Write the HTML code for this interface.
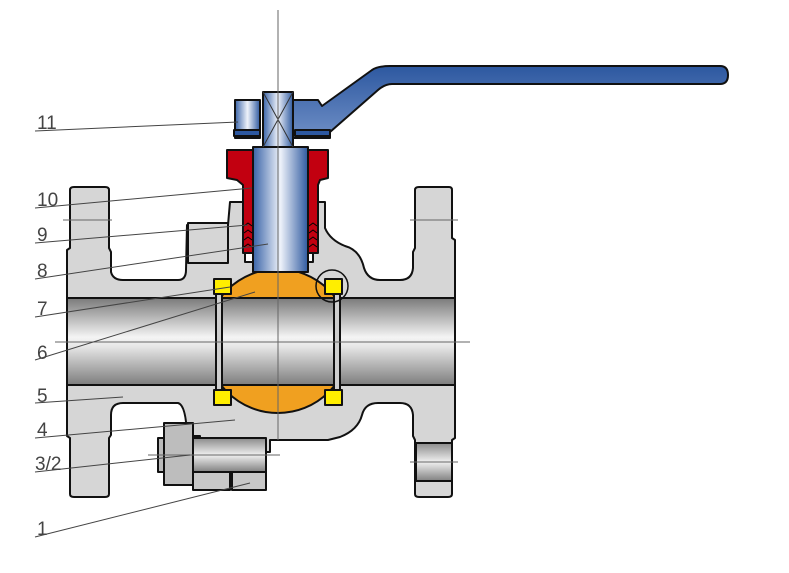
<!DOCTYPE html>
<html><head><meta charset="utf-8"><style>
html,body{margin:0;padding:0;background:#fff;}
svg{display:block;}
text{font-family:"Liberation Sans",sans-serif;font-size:19px;fill:#444;}
</style></head><body>
<svg width="789" height="573" viewBox="0 0 789 573" xmlns="http://www.w3.org/2000/svg">
<defs>
<linearGradient id="bore" x1="0" y1="0" x2="0" y2="1">
<stop offset="0" stop-color="#7a7a7a"/><stop offset="0.45" stop-color="#f4f4f4"/><stop offset="0.55" stop-color="#e8e8e8"/><stop offset="1" stop-color="#7d7d7d"/></linearGradient>
<linearGradient id="stem" x1="0" y1="0" x2="1" y2="0">
<stop offset="0" stop-color="#3a64a8"/><stop offset="0.5" stop-color="#eef2fa"/><stop offset="1" stop-color="#2f5aa0"/></linearGradient>
<linearGradient id="hand" x1="0" y1="0" x2="0" y2="1">
<stop offset="0" stop-color="#2d58a0"/><stop offset="1" stop-color="#6f8fc6"/></linearGradient>
<linearGradient id="bolt" x1="0" y1="0" x2="0" y2="1">
<stop offset="0" stop-color="#8a8a8a"/><stop offset="0.5" stop-color="#f0f0f0"/><stop offset="1" stop-color="#808080"/></linearGradient>
<clipPath id="bc"><rect x="223" y="200" width="110" height="250"/></clipPath>
</defs>
<g stroke="#111" stroke-width="2" stroke-linejoin="round">
<path fill="#d6d6d6" d="M70,190 Q70,187 74,187 L105,187 Q109,187 109,190 L109,248 L111,252 L111,272 Q113,280 123,280 L178,280 Q186,280 186,270 L187,225 L228,225 L230,202 L245,202 L245,262 L313,262 L313,202 L325,202 L325,228 Q330,240 345,246 Q360,250 364,268 Q368,280 380,280 L400,280 Q412,280 413,268 L413,252 L415,248 L415,190 Q415,187 419,187 L449,187 Q452,187 452,190 L452,238 L455,240 L455,438 L452,440 L452,494 Q452,497 448,497 L419,497 Q415,497 415,494 L415,440 L413,436 L413,415 Q412,403 400,403 L378,403 Q365,403 362,415 Q358,430 340,437 L328,440 L270,440 L270,452 L200,452 L200,436 L187,436 Q186,405 178,403 L123,403 Q111,403 111,415 L111,435 L109,438 L109,494 Q109,497 105,497 L74,497 Q70,497 70,494 L70,438 L67,436 L67,250 L70,248 Z"/>
<rect x="188" y="223" width="40" height="40" fill="#d6d6d6"/>
<rect x="67" y="298" width="388" height="87" fill="url(#bore)"/>
<circle cx="278" cy="341" r="72" fill="#f0a020" clip-path="url(#bc)"/>
<rect x="222" y="298" width="112" height="87" fill="url(#bore)"/>
<rect x="216" y="293" width="6" height="98" fill="#cfcfcf"/>
<rect x="334" y="293" width="6" height="98" fill="#cfcfcf"/>
<rect x="214" y="279" width="17" height="15" fill="#ffee00"/>
<rect x="214" y="390" width="17" height="15" fill="#ffee00"/>
<rect x="325" y="279" width="17" height="15" fill="#ffee00"/>
<rect x="325" y="390" width="17" height="15" fill="#ffee00"/>
<circle cx="332" cy="286" r="16" fill="none" stroke-width="1.5"/>
<rect x="253" y="147" width="55" height="125" fill="url(#stem)"/>
<rect x="263" y="92" width="30" height="55" fill="url(#stem)"/>
<path d="M263,92 L293,147 M293,92 L263,147" stroke="#333" stroke-width="1" fill="none"/>
<path fill="#c20010" d="M227,150 L253,150 L253,253 L243,253 L243,185 L237,180 L227,178 Z"/>
<path fill="#c20010" d="M308,150 L328,150 L328,178 L320,180 L318,185 L318,253 L308,253 Z"/>
<g stroke="#000" stroke-width="1" fill="none">
<path d="M244,226 l4,-3 l4,3 M244,233 l4,-3 l4,3 M244,240 l4,-3 l4,3 M244,247 l4,-3 l4,3"/>
<path d="M309,226 l4,-3 l4,3 M309,233 l4,-3 l4,3 M309,240 l4,-3 l4,3 M309,247 l4,-3 l4,3"/>
</g>
<path fill="url(#hand)" d="M293,100 L318,100 L322,106 L372,70 Q378,66 390,66 L720,66 Q728,66 728,75 Q728,84 720,84 L392,84 Q385,84 378,90 L330,132 L330,138 L293,138 Z"/>
<rect x="235" y="100" width="25" height="38" fill="url(#stem)"/>
<rect x="234" y="130" width="26" height="6" fill="#2d58a0"/>
<rect x="295" y="130" width="35" height="6" fill="#2d58a0"/>
<rect x="158" y="438" width="6" height="34" fill="#bbb"/>
<rect x="164" y="423" width="29" height="62" fill="#bdbdbd"/>
<rect x="193" y="438" width="73" height="34" fill="url(#bolt)"/>
<rect x="193" y="472" width="37" height="18" fill="#c8c8c8"/>
<rect x="232" y="472" width="34" height="18" fill="#c8c8c8"/>
<rect x="416" y="443" width="36" height="38" fill="url(#bolt)"/>
</g>
<g stroke="#666" stroke-width="1">
<line x1="278" y1="10" x2="278" y2="440"/>
<line x1="55" y1="342" x2="470" y2="342"/>
<line x1="63" y1="220" x2="112" y2="220"/>
<line x1="410" y1="220" x2="458" y2="220"/>
<line x1="410" y1="462" x2="458" y2="462"/>
<line x1="148" y1="455" x2="280" y2="455"/>
</g>
<g stroke="#444" stroke-width="1">
<line x1="35" y1="131" x2="238" y2="122"/>
<line x1="35" y1="208" x2="252" y2="188"/>
<line x1="35" y1="243" x2="248" y2="225"/>
<line x1="35" y1="279" x2="268" y2="244"/>
<line x1="35" y1="317" x2="230" y2="287"/>
<line x1="35" y1="360" x2="255" y2="292"/>
<line x1="35" y1="403" x2="123" y2="397"/>
<line x1="35" y1="438" x2="235" y2="420"/>
<line x1="35" y1="472" x2="190" y2="455"/>
<line x1="35" y1="537" x2="250" y2="483"/>
</g>
<text x="37" y="129">11</text>
<text x="37" y="206">10</text>
<text x="37" y="241">9</text>
<text x="37" y="277">8</text>
<text x="37" y="315">7</text>
<text x="37" y="359">6</text>
<text x="37" y="402">5</text>
<text x="37" y="436">4</text>
<text x="35" y="470">3/2</text>
<text x="37" y="535">1</text>
</svg>
</body></html>
